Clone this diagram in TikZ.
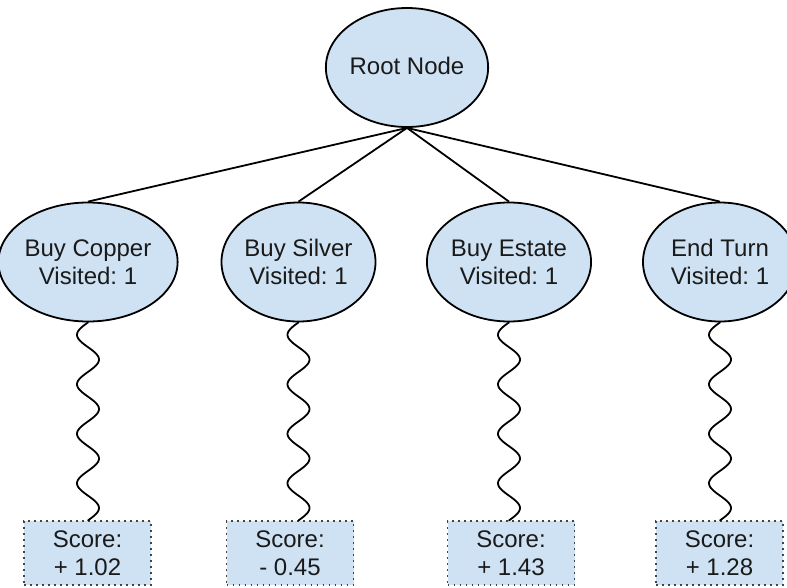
\documentclass[tikz,border=0pt]{standalone}
\usepackage{fontspec}
\setmainfont{Liberation Sans}
\frenchspacing
\usetikzlibrary{shapes.geometric}
\definecolor{lblue}{HTML}{CFE2F3}
\definecolor{txt}{HTML}{1A1A1A}
\definecolor{dotc}{HTML}{444444}
\tikzset{
  statenode/.style={ellipse, draw=black, line width=1.8pt, fill=lblue, inner sep=0pt,
    minimum width=154pt, minimum height=119pt, align=center, text=txt,
    font=\fontsize{24}{28}\selectfont},
  scorebox/.style={rectangle, draw=dotc, line width=1.6pt, dash pattern=on 1.6pt off 4.4pt,
    fill=lblue, inner sep=0pt, minimum width=127pt, minimum height=64pt, align=center,
    text=txt, font=\fontsize{24}{28}\selectfont},
  edge/.style={draw=black, line width=1.8pt},
  wave/.style={draw=black, line width=1.8pt, line cap=round, line join=round}
}
\begin{document}
\begin{tikzpicture}[x=1pt,y=-1pt]
\useasboundingbox (0,0) rectangle (787,587);
\clip (0,0) rectangle (787,587);
\node[statenode] (root) at (407,67.5) {\raisebox{4pt}{Root Node}};
\node[statenode] (c1) at (88,262) {Buy Copper\\Visited: 1};
\node[statenode] (c2) at (298.5,262) {Buy Silver\\Visited: 1};
\node[statenode] (c3) at (509,262) {Buy Estate\\Visited: 1};
\node[statenode] (c4) at (720,262) {End Turn\\Visited: 1};
\node[scorebox] (s1) at (87.5,553) {Score:\\+ 1.02};
\node[scorebox] (s2) at (290,553) {Score:\\- 0.45};
\node[scorebox] (s3) at (511,553) {Score:\\+ 1.43};
\node[scorebox] (s4) at (719.5,553) {Score:\\+ 1.28};
\foreach \c in {c1,c2,c3,c4} {
  \path[edge] (root.south) -- (\c.north);
}
\foreach \c in {c1,c2,c3,c4} {
  \begin{scope}[shift={(\c.south)}]
    \path[wave] plot[domain=0:4, samples=121, smooth]
      ({-11*sin(\x*360)}, {\x*49.5});
  \end{scope}
}
\end{tikzpicture}
\end{document}
